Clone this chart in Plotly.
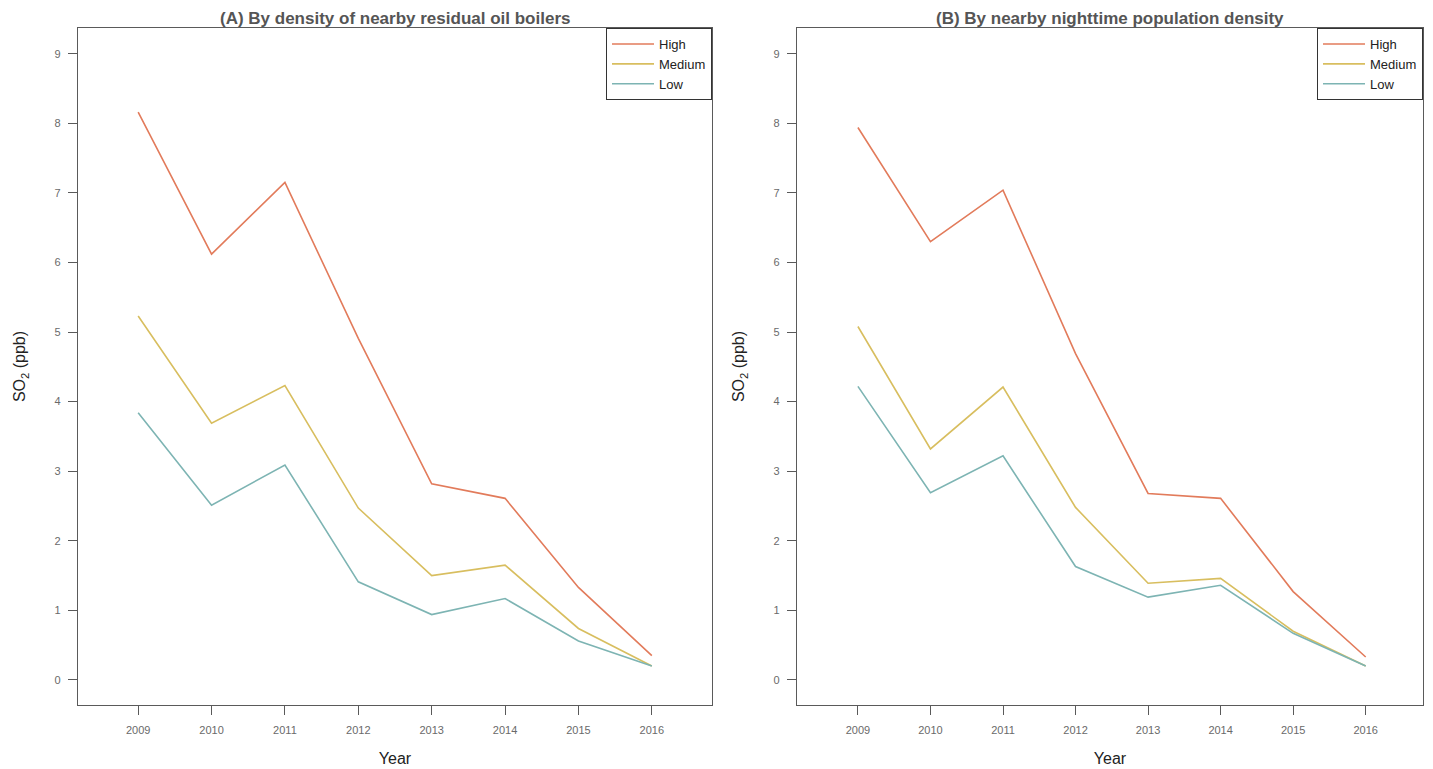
import plotly.graph_objects as go

years = [2009, 2010, 2011, 2012, 2013, 2014, 2015, 2016]

# Panel A: by density of nearby residual oil boilers
a_high = [8.16, 6.12, 7.15, 4.91, 2.82, 2.61, 1.33, 0.35]
a_medium = [5.23, 3.69, 4.23, 2.47, 1.50, 1.65, 0.74, 0.20]
a_low = [3.84, 2.51, 3.09, 1.41, 0.94, 1.17, 0.56, 0.20]

# Panel B: by nearby nighttime population density
b_high = [7.94, 6.30, 7.04, 4.69, 2.68, 2.61, 1.27, 0.33]
b_medium = [5.08, 3.32, 4.21, 2.48, 1.39, 1.46, 0.70, 0.20]
b_low = [4.22, 2.69, 3.22, 1.63, 1.19, 1.36, 0.67, 0.20]

series_names = ["High", "Medium", "Low"]
colors = {"High": "#E27B5B", "Medium": "#D8BE5F", "Low": "#7DB4B3"}
y_ticks = [0, 1, 2, 3, 4, 5, 6, 7, 8, 9]

# page body has an 8px margin; lay out in page pixels and shift
OFF = 8
W, H = 1433 - OFF, 769 - OFF
fig = go.Figure()

panels = [
    ("x", "y", "legend", [a_high, a_medium, a_low]),
    ("x2", "y2", "legend2", [b_high, b_medium, b_low]),
]
for xa, ya, lg, data in panels:
    for name, vals in zip(series_names, data):
        fig.add_trace(go.Scatter(
            x=years, y=vals, mode="lines", name=name,
            line=dict(color=colors[name], width=1.6),
            xaxis=xa, yaxis=ya, legend=lg,
        ))

def px_x(p):
    return (p - OFF) / W

def px_y(p):
    return 1 - (p - OFF) / H

top, bottom = 28, 705
FONT = "Liberation Sans, Arial"
axis_common = dict(
    showline=True, mirror=True, linecolor="#5a5a5a", linewidth=1.3,
    ticks="outside", ticklen=9, tickcolor="#5a5a5a", tickwidth=1.3,
    showgrid=False, zeroline=False, automargin=False,
    tickfont=dict(family=FONT, size=11, color="#6a6a6a"),
)
xtitle = dict(text="Year", font=dict(family=FONT, size=16, color="#222222"), standoff=17)
ytitle = dict(text="SO<sub>2</sub> (ppb)", font=dict(family=FONT, size=16, color="#222222"), standoff=24)
legend_common = dict(
    xanchor="right", yanchor="top",
    bordercolor="#333333", borderwidth=1, bgcolor="white",
    font=dict(family=FONT, size=13, color="#222222"),
    tracegroupgap=0, itemwidth=42,
)

fig.update_layout(
    width=W, height=H,
    margin=dict(l=0, r=0, t=0, b=0),
    paper_bgcolor="white", plot_bgcolor="white",
    xaxis=dict(domain=[px_x(78), px_x(712)], range=[2008.18, 2016.82],
               tickvals=years, ticktext=[str(y) for y in years],
               ticklabelstandoff=6, anchor="y", title=xtitle, **axis_common),
    yaxis=dict(domain=[px_y(bottom), px_y(top)], range=[-0.36, 9.37],
               tickvals=y_ticks, ticklabelstandoff=5, anchor="x", title=ytitle,
               **axis_common),
    xaxis2=dict(domain=[px_x(797), px_x(1423)], range=[2008.16, 2016.79],
                tickvals=years, ticktext=[str(y) for y in years],
                ticklabelstandoff=6, anchor="y2", title=xtitle, **axis_common),
    yaxis2=dict(domain=[px_y(bottom), px_y(top)], range=[-0.36, 9.37],
                tickvals=y_ticks, ticklabelstandoff=5, anchor="x2", title=ytitle,
                **axis_common),
    legend=dict(x=px_x(712), y=px_y(top), **legend_common),
    legend2=dict(x=px_x(1423), y=px_y(top), **legend_common),
    showlegend=True,
    annotations=[
        dict(text="<b>(A) By density of nearby residual oil boilers</b>",
             x=(px_x(78) + px_x(712)) / 2, y=px_y(19), xref="paper", yref="paper",
             xanchor="center", yanchor="middle", showarrow=False,
             font=dict(family=FONT, size=17, color="#555555")),
        dict(text="<b>(B) By nearby nighttime population density</b>",
             x=(px_x(797) + px_x(1423)) / 2, y=px_y(19), xref="paper", yref="paper",
             xanchor="center", yanchor="middle", showarrow=False,
             font=dict(family=FONT, size=17, color="#555555")),
    ],
)

fig.write_html("out.html")
